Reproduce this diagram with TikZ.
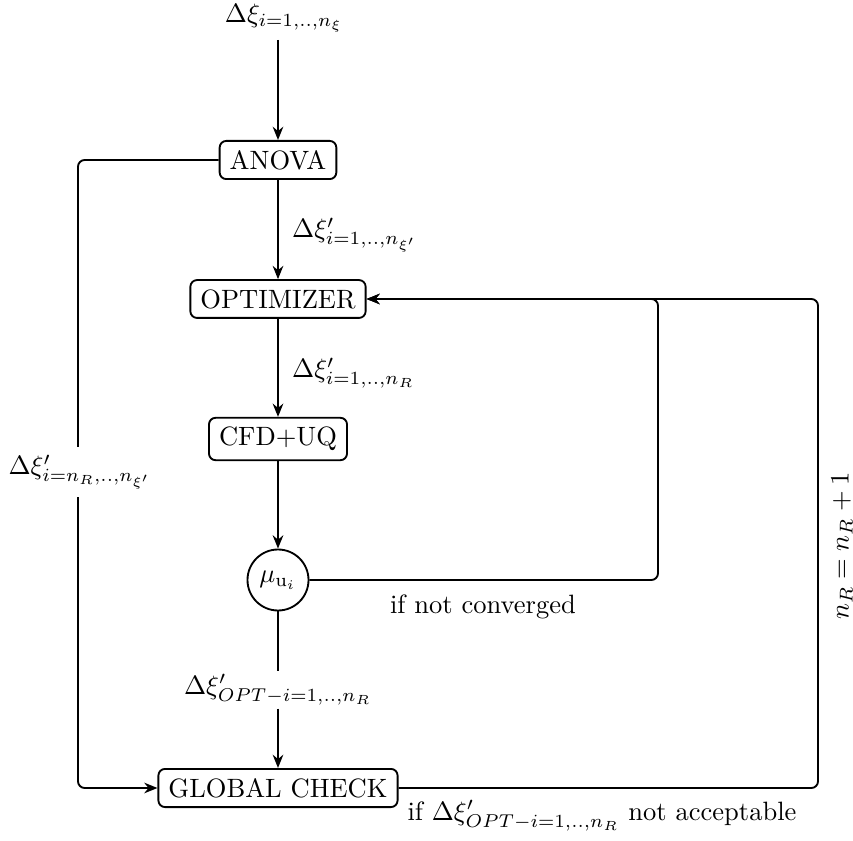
\documentclass[tikz,border=0pt]{standalone}
\usetikzlibrary{arrows.meta}
\begin{document}
\begin{tikzpicture}[x=0.377pt,y=-0.377pt,
  blk/.style={draw,rounded corners=2.5pt,inner xsep=3.8pt,inner ysep=3.5pt,line width=0.7pt},
  conn/.style={line width=0.7pt,rounded corners=2.5pt},
  arr/.style={conn,-{Stealth[length=5pt,width=4pt]}},
  lbl/.style={inner sep=1pt}]
\useasboundingbox (0,0) rectangle (853,841);
\node[lbl] (top) at (284,18) {$\Delta\xi_{i=1,..,n_\xi}$};
\node[blk] (anova) at (278,160) {ANOVA};
\node[blk] (opt) at (278,299) {OPTIMIZER};
\node[blk] (cfd) at (278,439) {CFD+UQ};
\node[draw,circle,line width=0.7pt,minimum size=23pt,inner sep=0pt] (mu) at (278,580) {$\mu_{\mathrm{u}_i}$};
\node[lbl] (optlab) at (278,690) {$\Delta\xi'_{OPT-i=1,..,n_R}$};
\node[blk] (gc) at (278,788) {GLOBAL CHECK};

\coordinate (t0) at (278,40);
\coordinate (c1) at (658,580);
\coordinate (c2) at (658,299);
\coordinate (r1) at (818,788);
\coordinate (r2) at (818,299);
\coordinate (l1) at (78,160);
\coordinate (l2) at (78,788);

\draw[arr] (t0) -- (anova);
\draw[arr] (anova) -- node[right,lbl,xshift=4pt,yshift=-2pt] {$\Delta\xi'_{i=1,..,n_{\xi'}}$} (opt);
\draw[arr] (opt) -- node[right,lbl,xshift=4pt,yshift=-2pt] {$\Delta\xi'_{i=1,..,n_R}$} (cfd);
\draw[arr] (cfd) -- (mu);
\draw[conn] (mu) -- (optlab.north);
\draw[arr] (optlab.south) -- (gc);
\draw[arr] (mu.east) -- (c1) -- (c2) -- (opt.east);
\draw[arr] (gc.east) -- (r1) -- (r2) -- (opt.east);
\draw[arr] (anova.west) -- (l1) -- (l2) -- (gc.west);

\node[fill=white,inner sep=3pt] (leftlab) at (80,472) {$\Delta\xi'_{i=n_R,..,n_{\xi'}}$};
\node[lbl] (nc) at (483,607) {if not converged};
\node[lbl] (na) at (602,816) {if $\Delta\xi'_{OPT-i=1,..,n_R}$ not acceptable};
\node[lbl,rotate=90] (nr) at (842,546) {$n_R=n_R+1$};
\end{tikzpicture}
\end{document}
